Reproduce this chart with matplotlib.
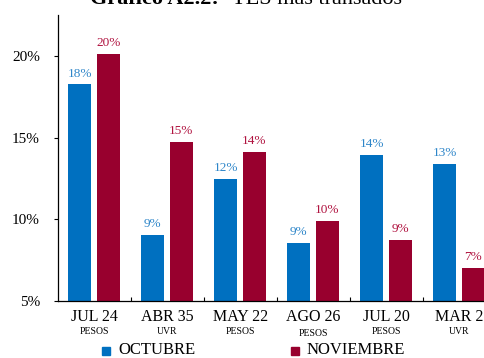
import numpy as np
import matplotlib
matplotlib.use("Agg")
import matplotlib.pyplot as plt
from matplotlib.patches import Rectangle

bonos = ["JUL 24", "ABR 35", "MAY 22", "AGO 26", "JUL 20", "MAR 2"]
tipos = ["PESOS", "UVR", "PESOS", "PESOS", "PESOS", "UVR"]
octubre = [18.25, 9.05, 12.45, 8.55, 13.95, 13.4]
noviembre = [20.1, 14.75, 14.1, 9.9, 8.75, 7.0]
yticks = [5, 10, 15, 20]

AZUL = "#0070c0"
ROJO = "#98002e"
AZUL_TXT = "#2e86c9"
ROJO_TXT = "#b0123f"

plt.rcParams["font.family"] = ["Liberation Serif", "DejaVu Serif"]

fig = plt.figure(figsize=(4.84, 3.58), dpi=100)
ax = fig.add_axes([58 / 484, 57 / 358, 438 / 484, 286 / 358])

x = np.arange(len(bonos))
w = 0.31
ax.bar(x - 0.205, np.array(octubre) - 5, w, bottom=5, color=AZUL)
ax.bar(x + 0.19, np.array(noviembre) - 5, w, bottom=5, color=ROJO)

for xi, v in zip(x, octubre):
    ax.text(xi - 0.205, v + 0.3, f"{int(v + 0.5)}%", ha="center", va="bottom",
            fontsize=9.5, color=AZUL_TXT)
for xi, v in zip(x, noviembre):
    ax.text(xi + 0.19, v + 0.3, f"{int(v + 0.5)}%", ha="center", va="bottom",
            fontsize=9.5, color=ROJO_TXT)

ax.set_xlim(-0.5, len(bonos) - 0.5)
ax.set_ylim(5, 22.5)
ax.set_yticks(yticks)
ax.set_yticklabels([f"{t}%" for t in yticks], fontsize=11)
ax.tick_params(axis="y", direction="out", length=3, width=0.8, pad=10)

ax.set_xticks(x[:-1] + 0.5)
ax.set_xticklabels([])
ax.tick_params(axis="x", direction="in", length=3, width=0.8)

for s in ["top", "right"]:
    ax.spines[s].set_visible(False)
for s in ["left", "bottom"]:
    ax.spines[s].set_linewidth(0.9)

for i, (b, t) in enumerate(zip(bonos, tipos)):
    ax.text(i, -0.057, b, transform=ax.get_xaxis_transform(), ha="center",
            va="center", fontsize=11.5)
    dy = -0.113 if b == "AGO 26" else -0.105
    ax.text(i, dy, t, transform=ax.get_xaxis_transform(), ha="center",
            va="center", fontsize=7)

# legend
fig.patches.append(Rectangle((102 / 484, 1 - 355 / 358), 8 / 484, 8 / 358,
                             transform=fig.transFigure, color=AZUL))
fig.text(118 / 484, 1 - 350 / 358, "OCTUBRE", fontsize=12, va="center")
fig.patches.append(Rectangle((291 / 484, 1 - 355 / 358), 8 / 484, 8 / 358,
                             transform=fig.transFigure, color=ROJO))
fig.text(307 / 484, 1 - 350 / 358, "NOVIEMBRE", fontsize=12, va="center")

# title (cut at top edge, as in the source)
fig.text(219 / 484, 1 - 4 / 358, "Gráfico A2.2:", fontsize=16, weight="bold",
         ha="right", va="baseline")
fig.text(232 / 484, 1 - 4 / 358, "TES más transados", fontsize=16,
         ha="left", va="baseline")

fig.savefig("out.png", dpi=100)
